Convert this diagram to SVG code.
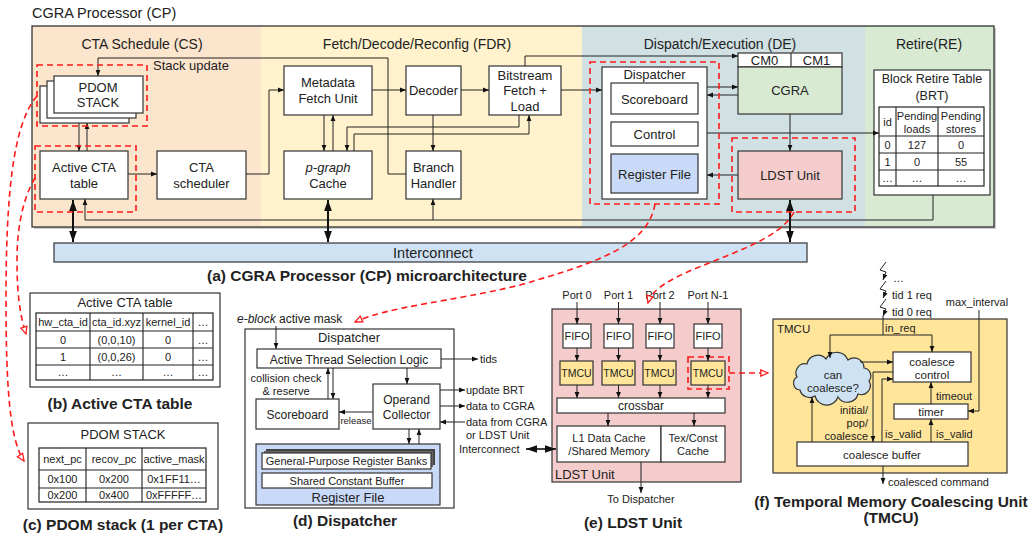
<svg xmlns="http://www.w3.org/2000/svg" width="1032" height="539" viewBox="0 0 1032 539">
<style>
.t{font-family:"Liberation Sans",Arial,sans-serif;fill:#222}
.c{text-anchor:middle}
.box{fill:#fff;stroke:#333;stroke-width:1.2}
.ln{fill:none;stroke:#222;stroke-width:1}
.ar{marker-end:url(#ah)}
.th{fill:none;stroke:#111;stroke-width:2;marker-start:url(#ab);marker-end:url(#ab)}
.red{fill:none;stroke:#ff1a1a;stroke-width:1.6;stroke-dasharray:6 4}
.redar{marker-end:url(#ro)}
.cap{font-weight:bold;font-size:15.5px}
.s11{font-size:11px}
.s12{font-size:12px}
.s13{font-size:13px}
.s14{font-size:14px}
</style>
<defs>
<marker id="ah" viewBox="0 0 10 10" refX="10" refY="5" markerWidth="6" markerHeight="6" markerUnits="userSpaceOnUse" orient="auto-start-reverse"><path d="M0,1 L10,5 L0,9 z" fill="#111"/></marker>
<marker id="ab" viewBox="0 0 10 10" refX="10" refY="5" markerWidth="11" markerHeight="11" markerUnits="userSpaceOnUse" orient="auto-start-reverse"><path d="M0,1.5 L10,5 L0,8.5 z" fill="#111"/></marker>
<marker id="ro" viewBox="0 0 10 10" refX="9" refY="5" markerWidth="9" markerHeight="9" markerUnits="userSpaceOnUse" orient="auto"><path d="M1,1.5 L9,5 L1,8.5 z" fill="#fff" stroke="#ff1a1a" stroke-width="1.4"/></marker>
</defs>
<rect width="1032" height="539" fill="#fff"/>

<!-- ===== (a) CGRA Processor ===== -->
<g id="cp-frame">
<text class="t" x="32" y="18" font-size="14.5">CGRA Processor (CP)</text>
<rect x="34" y="28" width="962" height="201" fill="#999" opacity="0.5"/>
<rect x="32" y="26" width="229" height="201" fill="#fce5cd"/>
<rect x="261" y="26" width="321" height="201" fill="#fff2cc"/>
<rect x="582" y="26" width="283" height="201" fill="#d0e0e3"/>
<rect x="865" y="26" width="129" height="201" fill="#d9ead3"/>
<rect x="32" y="26" width="962" height="201" fill="none" stroke="#222" stroke-width="1.2"/>
<text class="t c s14" x="142" y="49">CTA Schedule (CS)</text>
<text class="t c s14" x="417" y="49">Fetch/Decode/Reconfig (FDR)</text>
<text class="t c s14" x="720" y="49">Dispatch/Execution (DE)</text>
<text class="t c s14" x="929" y="49">Retire(RE)</text>
<text class="t s13" x="153" y="69.5">Stack update</text>
</g>

<g id="pdom-stack">
<rect class="box" x="40" y="86" width="89" height="37"/>
<rect class="box" x="47" y="81" width="89" height="37"/>
<rect class="box" x="54" y="76" width="89" height="37"/>
<text class="t c s13" x="98" y="91.5">PDOM</text>
<text class="t c s13" x="98" y="106.5">STACK</text>
</g>
<g id="active-cta">
<rect class="box" x="40" y="151" width="88" height="48"/>
<text class="t c s13" x="84" y="171.5">Active CTA</text>
<text class="t c s13" x="84" y="187.5">table</text>
</g>
<g id="cta-scheduler">
<rect class="box" x="157" y="151" width="89" height="48"/>
<text class="t c s13" x="201.5" y="171.5">CTA</text>
<text class="t c s13" x="201.5" y="187.5">scheduler</text>
</g>
<g id="metadata-fetch">
<rect class="box" x="284" y="66" width="88" height="49"/>
<text class="t c s13" x="328" y="86.5">Metadata</text>
<text class="t c s13" x="328" y="102.5">Fetch Unit</text>
</g>
<g id="decoder">
<rect class="box" x="406" y="66" width="55" height="49"/>
<text class="t c s13" x="433.5" y="94.5">Decoder</text>
</g>
<g id="bitstream">
<rect class="box" x="489" y="66" width="72" height="49"/>
<text class="t c s13" x="525" y="79.5">Bitstream</text>
<text class="t c s13" x="525" y="94.5">Fetch +</text>
<text class="t c s13" x="525" y="110.5">Load</text>
</g>
<g id="pgraph-cache">
<rect class="box" x="284" y="151" width="88" height="48"/>
<text class="t c s13" x="328" y="171.5" font-style="italic">p-graph</text>
<text class="t c s13" x="328" y="187.5">Cache</text>
</g>
<g id="branch-handler">
<rect class="box" x="406" y="151" width="55" height="48"/>
<text class="t c s13" x="433.5" y="171.5">Branch</text>
<text class="t c s13" x="433.5" y="187.5">Handler</text>
</g>
<g id="dispatcher">
<rect class="box" x="602" y="67" width="105" height="132"/>
<text class="t c s13" x="654.5" y="78.5">Dispatcher</text>
<rect class="box" x="611" y="83" width="87" height="31"/>
<text class="t c s13" x="654.5" y="103.5">Scoreboard</text>
<rect class="box" x="611" y="122" width="87" height="24"/>
<text class="t c s13" x="654.5" y="138.5">Control</text>
<rect class="box" x="611" y="154" width="87" height="39" style="fill:#c9daf8"/>
<text class="t c s13" x="654.5" y="178.5">Register File</text>
</g>
<g id="cgra">
<rect class="box" x="738" y="53" width="104" height="14"/>
<line x1="791" y1="53" x2="791" y2="67" stroke="#333" stroke-width="1.2"/>
<text class="t c s13" x="764.5" y="65">CM0</text>
<text class="t c s13" x="816.5" y="65">CM1</text>
<rect class="box" x="738" y="67" width="104" height="47" style="fill:#d9ead3"/>
<text class="t c s13" x="790" y="95">CGRA</text>
</g>
<g id="ldst-unit">
<rect class="box" x="738" y="151" width="104" height="48" style="fill:#f4cccc"/>
<text class="t c s13" x="790" y="179.5">LDST Unit</text>
</g>
<g id="brt">
<rect class="box" x="874" y="70" width="116" height="125"/>
<text class="t c" x="932" y="83" font-size="12.5">Block Retire Table</text>
<text class="t c" x="932" y="99.5" font-size="12.5">(BRT)</text>
<rect x="879" y="107" width="105" height="79" fill="#fff" stroke="#222" stroke-width="1.2"/>
<path d="M896,107V186M938,107V186M879,136H984M879,153H984M879,170H984" stroke="#222" stroke-width="1.1" fill="none"/>
<text class="t c s11" x="887.5" y="126">id</text>
<text class="t c s11" x="917" y="120">Pending</text>
<text class="t c s11" x="917" y="133">loads</text>
<text class="t c s11" x="961" y="120">Pending</text>
<text class="t c s11" x="961" y="133">stores</text>
<text class="t c s11" x="887.5" y="148.5">0</text>
<text class="t c s11" x="917" y="148.5">127</text>
<text class="t c s11" x="961" y="148.5">0</text>
<text class="t c s11" x="887.5" y="165.5">1</text>
<text class="t c s11" x="917" y="165.5">0</text>
<text class="t c s11" x="961" y="165.5">55</text>
<text class="t c s11" x="887.5" y="182">…</text>
<text class="t c s11" x="917" y="182">…</text>
<text class="t c s11" x="961" y="182">…</text>
</g>
<g id="interconnect">
<rect x="54" y="243" width="753" height="19" fill="#cfe2f3" stroke="#333" stroke-width="1.2"/>
<text class="t c" x="433" y="258" font-size="14.5">Interconnect</text>
</g>
<text class="t c cap" x="367" y="281">(a) CGRA Processor (CP) microarchitecture</text>

<!-- ===== (b) Active CTA table ===== -->
<g id="active-cta-table">
<rect class="box" x="30" y="293" width="190" height="94"/>
<text class="t c s13" x="125" y="306.5">Active CTA table</text>
<rect x="36" y="313" width="177" height="67" fill="#fff" stroke="#222" stroke-width="1.2"/>
<path d="M90,313V380M143,313V380M193,313V380M36,331H213M36,348H213M36,365H213" stroke="#222" stroke-width="1.1" fill="none"/>
<text class="t c s11" x="63" y="326">hw_cta_id</text>
<text class="t c s11" x="116.5" y="326">cta_id.xyz</text>
<text class="t c s11" x="168" y="326">kernel_id</text>
<text class="t c s11" x="203" y="326">…</text>
<text class="t c s11" x="63" y="343.5">0</text>
<text class="t c s11" x="116.5" y="343.5">(0,0,10)</text>
<text class="t c s11" x="168" y="343.5">0</text>
<text class="t c s11" x="203" y="343.5">…</text>
<text class="t c s11" x="63" y="360.5">1</text>
<text class="t c s11" x="116.5" y="360.5">(0,0,26)</text>
<text class="t c s11" x="168" y="360.5">0</text>
<text class="t c s11" x="203" y="360.5">…</text>
<text class="t c s11" x="63" y="376">…</text>
<text class="t c s11" x="116.5" y="376">…</text>
<text class="t c s11" x="168" y="376">…</text>
<text class="t c s11" x="203" y="376">…</text>
</g>
<text class="t c cap" x="120" y="408.5">(b) Active CTA table</text>

<!-- ===== (c) PDOM stack ===== -->
<g id="pdom-stack-table">
<rect class="box" x="28" y="423" width="190" height="86"/>
<text class="t c s13" x="123" y="438.5">PDOM STACK</text>
<rect x="39" y="448" width="167" height="54" fill="#fff" stroke="#222" stroke-width="1.2"/>
<path d="M86,448V502M142,448V502M39,470H206M39,488H206" stroke="#222" stroke-width="1.1" fill="none"/>
<text class="t c s11" x="62.5" y="463">next_pc</text>
<text class="t c s11" x="114" y="463">recov_pc</text>
<text class="t c s11" x="174" y="463">active_mask</text>
<text class="t c s11" x="62.5" y="483">0x100</text>
<text class="t c s11" x="114" y="483">0x200</text>
<text class="t c s11" x="174" y="483">0x1FF11…</text>
<text class="t c s11" x="62.5" y="499">0x200</text>
<text class="t c s11" x="114" y="499">0x400</text>
<text class="t c s11" x="174" y="499">0xFFFFF…</text>
</g>
<text class="t c cap" x="123" y="530">(c) PDOM stack (1 per CTA)</text>

<!-- ===== (d) Dispatcher ===== -->
<text class="t s12" x="237" y="323"><tspan font-style="italic">e-block</tspan> active mask</text>
<g id="d-dispatcher">
<rect class="box" x="245" y="329" width="209" height="179"/>
<text class="t c s13" x="349" y="341.5">Dispatcher</text>
</g>
<g id="d-atsl">
<rect class="box" x="257" y="349" width="184" height="19"/>
<text class="t c s12" x="349" y="363.5">Active Thread Selection Logic</text>
</g>
<text class="t c s11" x="286" y="382">collision check</text>
<text class="t c s11" x="286" y="395">&amp; reserve</text>
<g id="d-scoreboard">
<rect class="box" x="256" y="399" width="83" height="30"/>
<text class="t c s12" x="297.5" y="418.5">Scoreboard</text>
</g>
<g id="d-operand-collector">
<rect class="box" x="373" y="384" width="67" height="45"/>
<text class="t c s12" x="406.5" y="404">Operand</text>
<text class="t c s12" x="406.5" y="419">Collector</text>
</g>
<text class="t c" x="356" y="424" font-size="9.5">release</text>
<text class="t s11" x="480" y="363">tids</text>
<text class="t s11" x="466" y="394">update BRT</text>
<text class="t s11" x="466" y="410">data to CGRA</text>
<text class="t s11" x="466" y="426">data from CGRA</text>
<text class="t s11" x="466" y="439">or LDST Unit</text>
<text class="t s11" x="459" y="453">Interconnect</text>
<g id="d-register-file">
<rect x="256" y="444" width="184" height="61" fill="#c9daf8" stroke="#333" stroke-width="1.2"/>
<rect x="266" y="449" width="169" height="16" fill="#444"/>
<rect x="264" y="451" width="169" height="16" fill="#666"/>
<rect class="box" x="262" y="453" width="169" height="16"/>
<text class="t c s11" x="346.5" y="465">General-Purpose Register Banks</text>
<rect class="box" x="262" y="473" width="170" height="15"/>
<text class="t c s11" x="347" y="484.5">Shared Constant Buffer</text>
<text class="t c s13" x="348" y="501.5">Register File</text>
</g>
<text class="t c cap" x="345" y="525.5">(d) Dispatcher</text>

<!-- ===== (e) LDST Unit ===== -->
<g id="e-ldst">
<rect x="552" y="309" width="189" height="173" fill="#f4cccc" stroke="#333" stroke-width="1.2"/>
<text class="t s13" x="555" y="478.5">LDST Unit</text>
</g>
<text class="t c s11" x="577" y="299">Port 0</text>
<text class="t c s11" x="618.5" y="299">Port 1</text>
<text class="t c s11" x="660" y="299">Port 2</text>
<text class="t c s11" x="708" y="299">Port N-1</text>
<g id="e-fifo0"><rect class="box" x="563" y="324" width="28" height="24"/><text class="t c s11" x="577" y="340">FIFO</text></g>
<g id="e-fifo1"><rect class="box" x="604" y="324" width="29" height="24"/><text class="t c s11" x="618.5" y="340">FIFO</text></g>
<g id="e-fifo2"><rect class="box" x="646" y="324" width="28" height="24"/><text class="t c s11" x="660" y="340">FIFO</text></g>
<g id="e-fifo3"><rect class="box" x="694" y="324" width="28" height="24"/><text class="t c s11" x="708" y="340">FIFO</text></g>
<g id="e-tmcu0"><rect class="box" x="560" y="361" width="33" height="24" style="fill:#ffe599"/><text class="t c" x="576.5" y="377" font-size="10.5">TMCU</text></g>
<g id="e-tmcu1"><rect class="box" x="602" y="361" width="33" height="24" style="fill:#ffe599"/><text class="t c" x="618.5" y="377" font-size="10.5">TMCU</text></g>
<g id="e-tmcu2"><rect class="box" x="643" y="361" width="33" height="24" style="fill:#ffe599"/><text class="t c" x="659.5" y="377" font-size="10.5">TMCU</text></g>
<g id="e-tmcu3"><rect class="box" x="691" y="361" width="34" height="24" style="fill:#ffe599"/><text class="t c" x="708" y="377" font-size="10.5">TMCU</text></g>
<g id="e-crossbar"><rect class="box" x="557" y="398" width="168" height="15"/><text class="t c s12" x="641" y="409.5">crossbar</text></g>
<g id="e-l1"><rect class="box" x="557" y="426" width="104" height="36"/><text class="t c s11" x="609" y="442">L1 Data Cache</text><text class="t c s11" x="609" y="455">/Shared Memory</text></g>
<g id="e-tex"><rect class="box" x="661" y="426" width="64" height="36"/><text class="t c s11" x="693" y="442">Tex/Const</text><text class="t c s11" x="693" y="455">Cache</text></g>
<text class="t c s11" x="641" y="503">To Dispatcher</text>
<text class="t c cap" x="633" y="527.5">(e) LDST Unit</text>

<!-- ===== (f) TMCU ===== -->
<g id="f-tmcu">
<rect x="773" y="319" width="234" height="154" fill="#ffe599" stroke="#333" stroke-width="1.2"/>
<text class="t" x="777" y="333" font-size="11.5">TMCU</text>
</g>
<text class="t s11" x="893" y="282">…</text>
<text class="t s11" x="892" y="299">tid 1 req</text>
<text class="t s11" x="892" y="316">tid 0 req</text>
<text class="t s11" x="885" y="332">in_req</text>
<text class="t c s11" x="977" y="306">max_interval</text>
<g id="f-can-coalesce">
<path d="M800,390 A7,7 0 0 1 797,377 A9,9 0 0 1 807,364 A11,11 0 0 1 826,359 A12,12 0 0 1 848,360 A10,10 0 0 1 864,368 A8,8 0 0 1 869,381 A9,9 0 0 1 858,394 A11,11 0 0 1 838,397 A12,12 0 0 1 815,396 A10,10 0 0 1 800,390 Z" fill="#cfe2f3" stroke="#333" stroke-width="1.2"/>
<text class="t c" x="833" y="379" font-size="11.5">can</text>
<text class="t c" x="833" y="392" font-size="11.5">coalesce?</text>
</g>
<g id="f-coalesce-control">
<rect class="box" x="893" y="352" width="78" height="30"/>
<text class="t c" x="932" y="366" font-size="11.5">coalesce</text>
<text class="t c" x="932" y="379" font-size="11.5">control</text>
</g>
<g id="f-timer">
<rect class="box" x="894" y="404" width="74" height="15"/>
<text class="t c" x="931" y="415.5" font-size="11.5">timer</text>
</g>
<g id="f-buffer">
<rect class="box" x="797" y="442" width="171" height="24"/>
<text class="t c" x="882" y="458.5" font-size="11.5">coalesce buffer</text>
</g>
<text class="t s11" x="868" y="414" text-anchor="end">initial/</text>
<text class="t s11" x="868" y="427" text-anchor="end">pop/</text>
<text class="t s11" x="868" y="440" text-anchor="end">coalesce</text>
<text class="t s11" x="885" y="438">is_valid</text>
<text class="t s11" x="936" y="438">is_valid</text>
<text class="t s11" x="936" y="400">timeout</text>
<text class="t s11" x="888" y="486">coalesced command</text>
<text class="t c cap" x="891" y="507">(f) Temporal Memory Coalescing Unit</text>
<text class="t c cap" x="891" y="523">(TMCU)</text>

<!-- ===== connectors ===== -->
<g id="connectors">
<path class="ln ar" d="M79,123V151"/>
<path class="ln ar" d="M87,151V123"/>
<path class="ln ar" d="M128,174H157"/>
<path class="ln ar" d="M246,174H269V90H284"/>
<path class="ln ar" d="M406,174H388V58H98V76"/>
<path class="ln ar" d="M933,195V220H85V199"/>
<path class="ln ar" d="M433,220V199"/>
<path class="ln ar" d="M372,90H406"/>
<path class="ln ar" d="M461,90H489"/>
<path class="ln ar" d="M561,90H602"/>
<path class="ln ar" d="M525,66V56H738"/>
<path class="ln ar" d="M324,115V151"/>
<path class="ln ar" d="M333,151V115"/>
<path class="ln ar" d="M433,115V151"/>
<path class="ln ar" d="M519,115V127H347V151"/>
<path class="ln ar" d="M354,151V134H529V115"/>
<path class="ln ar" d="M707,87H738"/>
<path class="ln ar" d="M738,95H707"/>
<path class="ln ar" d="M790,114V151"/>
<path class="ln ar" d="M738,175H707"/>
<path class="ln ar" d="M707,133H879"/>
<path class="th" d="M73,200V242"/>
<path class="th" d="M328,200V242"/>
<path class="th" d="M790,200V242"/>
<rect class="red" x="37" y="65" width="110" height="61"/>
<rect class="red" x="35" y="146" width="101" height="66"/>
<rect class="red" x="590" y="62" width="129" height="142"/>
<rect class="red" x="732" y="138" width="123" height="74"/>
<rect class="red" x="688" y="357" width="41" height="32"/>
<path class="red redar" d="M37,96 C12,125 6,200 6,300 C6,390 10,440 24,461"/>
<path class="red redar" d="M35,178 C22,200 17,230 17,260 C17,290 19,312 26,334"/>
<path class="red redar" d="M655,204 C648,245 600,262 520,285 C450,302 390,306 355,322"/>
<path class="red redar" d="M794,212 C780,240 725,255 685,273 C662,284 651,292 648,303"/>
<path class="red redar" d="M729,373H768"/>
<path class="ln ar" d="M276,326V349"/>
<path class="ln ar" d="M441,359H478"/>
<path class="ln ar" d="M328,399V368"/>
<path class="ln ar" d="M333,368V399"/>
<path class="ln ar" d="M407,368V384"/>
<path class="ln ar" d="M373,412H339"/>
<path class="ln ar" d="M440,390H465"/>
<path class="ln ar" d="M440,406H465"/>
<path class="ln ar" d="M465,422H440"/>
<path class="ln ar" d="M409,429V444"/>
<path class="ln ar" d="M419,444V429"/>
<path d="M526,449H556" fill="none" stroke="#111" stroke-width="1.6" marker-start="url(#ab)" marker-end="url(#ab)"/>
<path class="ln ar" d="M577,302V324"/>
<path class="ln ar" d="M618.5,302V324"/>
<path class="ln ar" d="M660,302V324"/>
<path class="ln ar" d="M708,302V324"/>
<path class="ln ar" d="M577,348V361"/>
<path class="ln ar" d="M618.5,348V361"/>
<path class="ln ar" d="M660,348V361"/>
<path class="ln ar" d="M708,348V361"/>
<path class="ln ar" d="M577,385V398"/>
<path class="ln ar" d="M618.5,385V398"/>
<path class="ln ar" d="M660,385V398"/>
<path class="ln ar" d="M708,385V398"/>
<path class="ln ar" d="M608,413V426"/>
<path class="ln ar" d="M694,413V426"/>
<path class="ln ar" d="M641,462V493"/>
<path class="ln ar" d="M886,262L880,270L886,272L883,280"/>
<path class="ln ar" d="M886,281L880,289L886,291L883,298"/>
<path class="ln ar" d="M886,299L880,307L886,309L883,316"/>
<path class="ln" d="M883,316V335"/>
<path class="ln ar" d="M883,335H830V358"/>
<path class="ln ar" d="M883,335H932V352"/>
<path class="ln ar" d="M860,362H893"/>
<path class="ln ar" d="M893,372H873V442"/>
<path class="ln ar" d="M882,442V379H893"/>
<path class="ln ar" d="M931,404V382"/>
<path class="ln ar" d="M979,310V411H968"/>
<path class="ln ar" d="M931,442V419"/>
<path class="ln ar" d="M812,442V397"/>
<path class="ln ar" d="M883,466V484"/>
</g>
</svg>
